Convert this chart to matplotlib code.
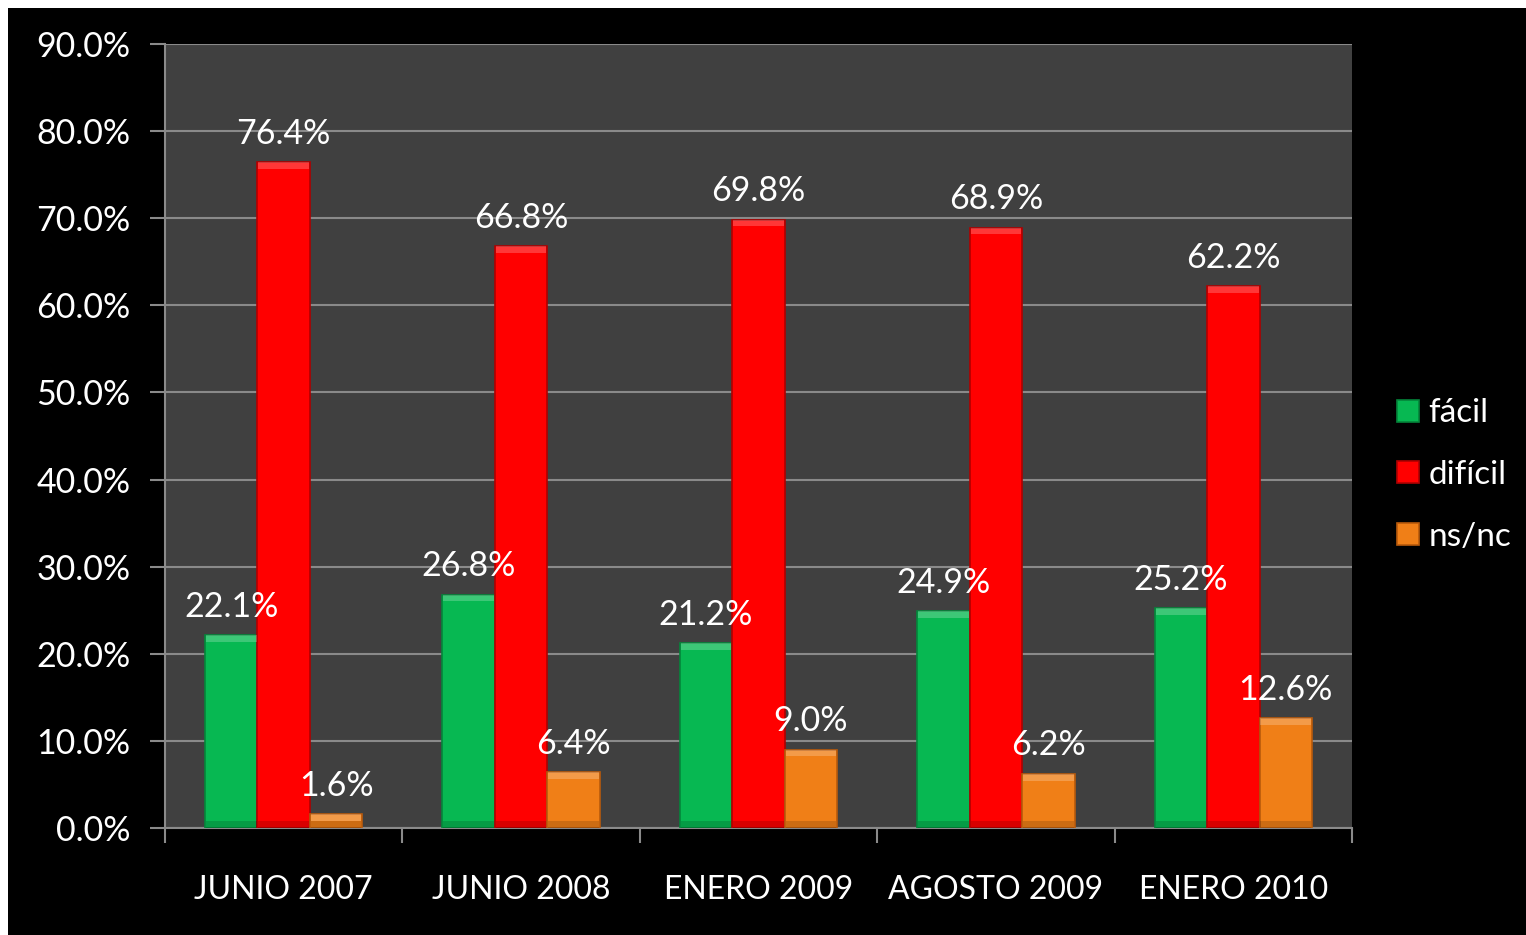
import numpy as np
import matplotlib
matplotlib.use("Agg")
import matplotlib.pyplot as plt
from matplotlib.patches import Rectangle

plt.rcParams['font.family'] = ['Lato', 'DejaVu Sans']

# datos
periodos = ['JUNIO 2007', 'JUNIO 2008', 'ENERO 2009', 'AGOSTO 2009', 'ENERO 2010']
facil = [22.1, 26.8, 21.2, 24.9, 25.2]
dificil = [76.4, 66.8, 69.8, 68.9, 62.2]
nsnc = [1.6, 6.4, 9.0, 6.2, 12.6]
series = ['fácil', 'difícil', 'ns/nc']

colores = ['#07B852', '#FF0000', '#F07F17']
bordes = ['#04853A', '#B00000', '#B85A0C']

fig = plt.figure(figsize=(15.26, 9.35), dpi=100, facecolor='white')
# fondo negro con borde blanco arriba e izquierda
fondo = Rectangle((8 / 1526, 0), 1, 1 - 8 / 935, transform=fig.transFigure,
                  facecolor='black', edgecolor='none', zorder=-10)
fig.patches.append(fondo)

ax = fig.add_axes([165 / 1526, (935 - 828) / 935, (1352 - 165) / 1526, (828 - 44) / 935])
ax.set_facecolor('#404040')

x = np.arange(len(periodos))
ancho = 0.221
for i, valores in enumerate([facil, dificil, nsnc]):
    pos = x + (i - 1) * ancho
    barras = ax.bar(pos, valores, width=ancho, color=colores[i], edgecolor=bordes[i],
                    linewidth=1.2, label=series[i], zorder=3)
    # bisel: brillo arriba, sombra abajo
    for b in barras:
        h = min(0.75, b.get_height() * 0.5)
        ax.add_patch(Rectangle((b.get_x() + 0.004, b.get_height() - h), b.get_width() - 0.008, h,
                               facecolor='white', alpha=0.22, edgecolor='none', zorder=4))
        ax.add_patch(Rectangle((b.get_x() + 0.004, 0), b.get_width() - 0.008, h,
                               facecolor='black', alpha=0.15, edgecolor='none', zorder=4))
    for px, v in zip(pos, valores):
        ax.annotate(f'{v:.1f}%', (px, v), xytext=(0, 9), textcoords='offset points',
                    ha='center', va='bottom', color='white', fontsize=24.5, zorder=10)

ax.set_ylim(0, 90)
ax.set_xlim(-0.5, len(periodos) - 0.5)
ax.set_yticks(np.arange(0, 91, 10))
ax.set_yticklabels([f'{v:.1f}%' for v in np.arange(0, 91, 10)])
ax.yaxis.grid(True, color='#8A8A8A', linewidth=1.5, zorder=1)
ax.set_axisbelow(True)

ax.set_xticks(np.arange(-0.5, len(periodos), 1))
ax.set_xticklabels([])
ax.set_xticks(x, minor=True)
ax.set_xticklabels(periodos, minor=True)
ax.tick_params(axis='x', which='major', direction='out', length=11, color='#8A8A8A', width=1.5)
ax.tick_params(axis='x', which='minor', length=0, pad=34, labelsize=23, labelcolor='white')
ax.tick_params(axis='y', direction='out', length=11, color='#8A8A8A', width=1.5,
               labelsize=24.5, labelcolor='white', pad=14)

for s in ['top', 'right']:
    ax.spines[s].set_visible(False)
for s in ['left', 'bottom']:
    ax.spines[s].set_color('#8A8A8A')
    ax.spines[s].set_linewidth(1.5)

leg = fig.legend(loc='center left', bbox_to_anchor=(1397 / 1526, 1 - 475 / 935),
                 frameon=False, fontsize=24, labelcolor='white', handlelength=0.65,
                 handleheight=0.65, handletextpad=0.3, labelspacing=0.95, borderpad=0,
                 borderaxespad=0)

fig.savefig('out.png', dpi=100, facecolor=fig.get_facecolor())
